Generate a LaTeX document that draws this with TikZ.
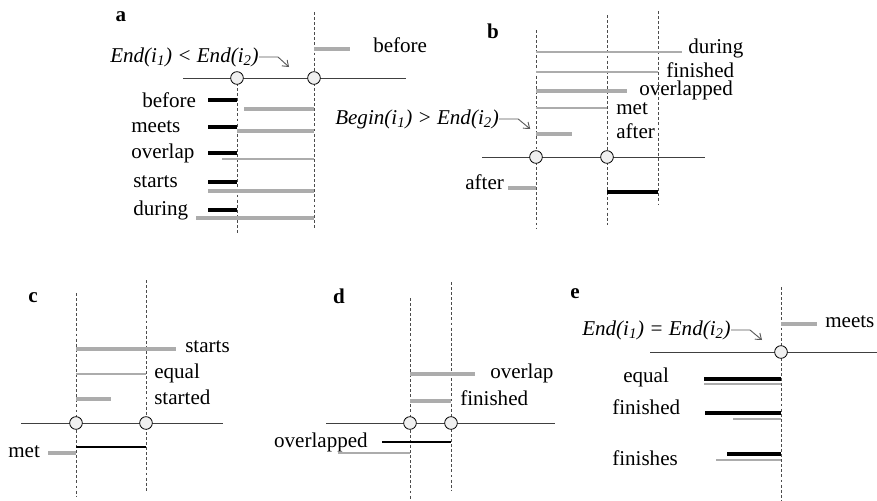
\documentclass[tikz,border=0pt]{standalone}
\usepackage{fontspec}
\setmainfont{Liberation Serif}
\usetikzlibrary{arrows.meta}

\definecolor{gristrait}{RGB}{172,172,172}

\tikzset{
    axe/.style={line width=0.7pt, black!75},
    pointille/.style={dash pattern=on 2.2pt off 1.6pt, line width=0.5pt, black!70},
    noir/.style={line width=2.4pt, black},
    noirfin/.style={line width=1.6pt, black},
    gris/.style={line width=2.3pt, gristrait},
    grisfin/.style={line width=1.6pt, gristrait},
    rond/.style={circle, draw, fill=black!6, inner sep=0pt, minimum size=9.5pt, line width=0.6pt},
    lbl/.style={font=\fontsize{15.8}{18}\selectfont, inner sep=0pt, anchor=west},
    cond/.style={lbl, font=\fontsize{15.8}{18}\selectfont\itshape},
    lettre/.style={font=\fontsize{15.8}{18}\selectfont\bfseries, inner sep=0pt},
    fleche/.style={-{Straight Barb[length=4pt,width=6pt]}, line width=0.7pt, black!65},
}

\begin{document}
\begin{tikzpicture}[x=0.75pt,y=-0.75pt]

\useasboundingbox (0,0) rectangle (877,500);

%--- cas a
\node[lettre] (la) at (121,17) {a};
\coordinate (aG) at (237,78);
\coordinate (aD) at (314,78);
\draw[axe] (183,78) -- (406,78);
\draw[pointille] (aG) -- (237,235);
\draw[pointille] (314,12) -- (314,228);
\node[rond] (ca1) at (aG) {};
\node[rond] (ca2) at (aD) {};
\draw[gris] (314,49) -- (350,49);
\node[lbl] (ta0) at (373,45) {before};
\node[cond] (conda) at (110,57) {End(i\textsubscript{1}) < End(i\textsubscript{2})};
\draw[fleche] (conda.east) -- ++(19,0) -- ++(11,10);
% lignes a
\foreach \yn/\yg/\xg/\xt/\txt/\st in {%
    100/109/244/142/before/gris,127/131/237/131/meets/gris,%
    153/159/222/131/overlap/grisfin,182/191/208/133/starts/gris,%
    210/218/196/133/during/gris%
}{
    \draw[noir] (208,\yn) -- (237,\yn);
    \draw[\st] (\xg,\yg) -- (314,\yg);
    \node[lbl] (ta\txt) at (\xt,\yn) {\txt};
}

%--- cas b
\node[lettre] (lb) at (493,31) {b};
\coordinate (bG) at (536,157);
\coordinate (bM) at (607,157);
\draw[axe] (482,157) -- (705,157);
\draw[pointille] (536,30) -- (536,228);
\draw[pointille] (607,15) -- (607,225);
\draw[pointille] (658,11) -- (658,205);
\node[rond] (cb1) at (bG) {};
\node[rond] (cb2) at (bM) {};
\foreach \y/\xf/\xt/\yt/\txt/\st in {%
    52/682/688/48/during/grisfin,72/658/666/70/finished/grisfin,%
    91/627/639/90/overlapped/gris,108/607/616/109/met/grisfin,%
    134/572/616/131/after/gris%
}{
    \draw[\st] (536,\y) -- (\xf,\y);
    \node[lbl] (tb\txt) at (\xt,\yt) {\txt};
}
\draw[gris] (508,188) -- (536,188);
\node[lbl] (tbafter2) at (465,182) {after};
\draw[noir] (607,192) -- (658,192);
\node[cond] (condb) at (335,119) {Begin(i\textsubscript{1}) > End(i\textsubscript{2})};
\draw[fleche] (condb.east) -- ++(19,0) -- ++(12,10);

%--- cas c
\node[lettre] (lc) at (33,298) {c};
\coordinate (cG) at (76,423);
\coordinate (cD) at (146,423);
\draw[axe] (21,423) -- (223,423);
\draw[pointille] (76,293) -- (76,497);
\draw[pointille] (146,280) -- (146,492);
\node[rond] (cc1) at (cG) {};
\node[rond] (cc2) at (cD) {};
\draw[gris] (76,349) -- (176,349);
\node[lbl] (tcstarts) at (185,347) {starts};
\draw[grisfin] (76,374) -- (146,374);
\node[lbl] (tcequal) at (154,373) {equal};
\draw[gris] (76,399) -- (111,399);
\node[lbl] (tcstarted) at (154,397) {started};
\draw[noirfin] (76,447) -- (146,447);
\draw[gris] (48,453) -- (76,453);
\node[lbl] (tcmet) at (8,452) {met};

%--- cas d
\node[lettre] (ld) at (339,296) {d};
\coordinate (dG) at (410,423);
\coordinate (dD) at (451,423);
\draw[axe] (326,423) -- (555,423);
\draw[pointille] (410,298) -- (410,500);
\draw[pointille] (451,282) -- (451,490);
\node[rond] (cd1) at (dG) {};
\node[rond] (cd2) at (dD) {};
\draw[gris] (410,374) -- (475,374);
\node[lbl] (tdoverlap) at (490,373) {overlap};
\draw[gris] (410,401) -- (451,401);
\node[lbl] (tdfinished) at (460,398) {finished};
\draw[noirfin] (382,442) -- (451,442);
\draw[grisfin] (338,453) -- (410,453);
\node[lbl, anchor=east] (tdoverlapped) at (368,442) {overlapped};

%--- cas e
\node[lettre] (le) at (575,294) {e};
\coordinate (eM) at (781,352);
\draw[axe] (650,352) -- (877,352);
\draw[pointille] (781,287) -- (781,500);
\node[rond] (ce1) at (eM) {};
\draw[gris] (781,324) -- (817,324);
\node[lbl] (temeets) at (825,322) {meets};
\node[cond] (conde) at (582,330) {End(i\textsubscript{1}) = End(i\textsubscript{2})};
\draw[fleche] (conde.east) -- ++(19,0) -- ++(12,10);
\foreach \yn/\xn/\yg/\xg/\xt/\yt/\txt in {%
    379/704/384/704/623/377/equal,413/705/419/733/612/407/finished,%
    454/727/460/716/612/458/finishes%
}{
    \draw[noir] (\xn,\yn) -- (781,\yn);
    \draw[grisfin] (\xg,\yg) -- (781,\yg);
    \node[lbl] (te\txt) at (\xt,\yt) {\txt};
}

\end{tikzpicture}
\end{document}
